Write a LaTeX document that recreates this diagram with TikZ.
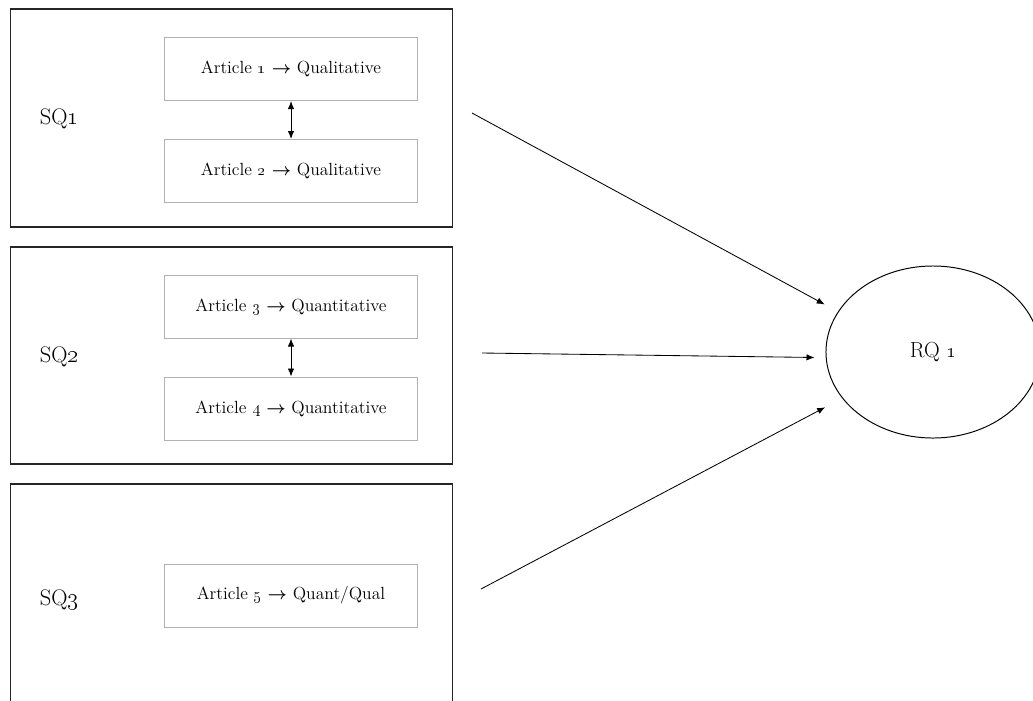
\documentclass[tikz,border=0pt]{standalone}
\usepackage{amsmath}
\usepackage{xcolor}
\colorlet{colorFrame}{black!85}
\colorlet{colorArticle}{black!30}
\usepackage{tikz}
\usetikzlibrary{arrows.meta, positioning, shapes.geometric}
\tikzset{
  frame/.style={draw=colorFrame, line width=0.9pt, minimum width=11.03cm},
  article/.style={draw=colorArticle, line width=0.7pt, minimum width=6.3cm, minimum height=1.575cm, font=\fontsize{12.5}{15}\selectfont},
  sqlabel/.style={anchor=west, font=\fontsize{16}{18}\selectfont},
  link/.style={->, line width=0.6pt}
}
\newcommand{\ra}{$\boldsymbol{\rightarrow}$}

\begin{document}
\begin{tikzpicture}[>={Latex[length=2mm,width=1.6mm]}, x=0.025cm, y=-0.025cm, node distance=0.95cm]
\clip (0,0) rectangle (1033,700);
\fill[white] (0,0) rectangle (1033,700);
% outer frames
\node[frame, minimum height=5.45cm] (sq1box) at (231.5,118) {};
\node[frame, minimum height=5.425cm] (sq2box) at (231.5,355.5) {};
\node[frame, minimum height=5.9cm] (sq3box) at (231.5,602) {};
\node[sqlabel] (sq1) at (35,119) {SQ\oldstylenums{1}};
\node[sqlabel] (sq2) at (35,357) {SQ\oldstylenums{2}};
\node[sqlabel] (sq3) at (35,600) {SQ\oldstylenums{3}};
% articles
\node[article] (a1) at (291,69) {Article \oldstylenums{1} \ra{} Qualitative};
\node[article, below=of a1] (a2) {Article \oldstylenums{2} \ra{} Qualitative};
\node[article] (a3) at (291,306.5) {Article \oldstylenums{3} \ra{} Quantitative};
\node[article, below=of a3] (a4) {Article \oldstylenums{4} \ra{} Quantitative};
\node[article] (a5) at (291,595.5) {Article \oldstylenums{5} \ra{} Quant/Qual};
\draw[<->, line width=0.6pt] (a1) -- (a2);
\draw[<->, line width=0.6pt] (a3) -- (a4);
% research question
\node[ellipse, draw, line width=0.7pt, minimum width=5.35cm, minimum height=4.3cm, font=\fontsize{15.5}{18}\selectfont] (rq) at (933,352) {RQ \oldstylenums{1}};
\coordinate (s1) at (472,113);
\coordinate (s2) at (482,353);
\coordinate (s3) at (481,589);
\draw[link, shorten >=0.375cm] (s1) -- (rq.157);
\draw[link, shorten >=0.28cm] (s2) -- (rq.183);
\draw[link, shorten >=0.48cm] (s3) -- (rq.207);
\end{tikzpicture}
\end{document}
